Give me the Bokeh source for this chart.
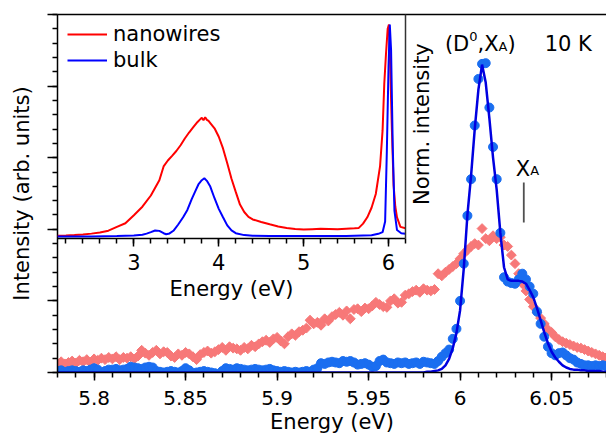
import math
import numpy as np
from bokeh.plotting import figure
from bokeh.models import Range1d, FixedTicker, LinearAxis, Label, Legend, LegendItem
from bokeh.embed import file_html
from bokeh.resources import INLINE

FONT = "DejaVu Sans"

# ---------------- main panel data (energy grid 5.78 ... 6.08 eV, step 0.002) ----------------
main_energy_start = 5.78
main_energy_step = 0.002

nanowire_main = [
    0.13, 0.15, 0.12, 0.14, 0.16, 0.13, 0.17, 0.15, 0.18, 0.14,
    0.19, 0.17, 0.20, 0.18, 0.21, 0.19, 0.22, 0.18, 0.21, 0.20,
    0.22, 0.19, 0.23, 0.31, 0.27, 0.24, 0.28, 0.31, 0.26, 0.29,
    0.28, 0.23, 0.21, 0.26, 0.24, 0.28, 0.26, 0.22, 0.18, 0.25,
    0.28, 0.30, 0.27, 0.29, 0.32, 0.35, 0.31, 0.36, 0.34, 0.33,
    0.31, 0.35, 0.33, 0.38, 0.36, 0.40, 0.43, 0.45, 0.42, 0.47,
    0.49, 0.44, 0.40, 0.50, 0.54, 0.52, 0.57, 0.59, 0.62, 0.73,
    0.68, 0.70, 0.66, 0.75, 0.72, 0.78, 0.81, 0.84, 0.80, 0.86,
    0.75, 0.88, 0.89, 0.85, 0.90, 0.89, 0.93, 0.98, 0.95, 0.92,
    0.91, 1.00, 1.03, 0.97, 0.98, 1.08, 1.10, 1.13, 1.15, 1.12,
    1.17, 1.15, 1.14, 1.16, 1.38, 1.35, 1.40, 1.44, 1.48, 1.52,
    1.59, 1.66, 1.71, 1.76, 1.80, 1.78, 2.01, 1.87, 1.84, 1.91,
    1.87, 1.89, 1.78, 1.76, 1.64, 1.52, 1.38, 1.24, 1.14, 1.02,
    0.92, 0.84, 0.76, 0.68, 0.60, 0.56, 0.50, 0.46, 0.43, 0.41,
    0.39, 0.37, 0.35, 0.34, 0.32, 0.30, 0.28, 0.26, 0.24, 0.22, 0.21,
]

bulk_main = [
    0.02, 0.03, 0.01, 0.02, 0.03, 0.02, 0.01, 0.03, 0.02, 0.04,
    0.06, 0.04, -0.03, 0.02, 0.04, 0.04, 0.05, 0.03, 0.04, 0.05,
    0.08, 0.07, 0.06, 0.05, 0.07, 0.08, 0.07, 0.02, 0.01, 0.00,
    0.01, 0.02, 0.01, 0.00, 0.02, 0.06, 0.03, -0.01, 0.00, 0.01,
    0.02, 0.01, 0.00, -0.01, -0.03, 0.02, 0.06, 0.05, 0.04, 0.06,
    0.05, 0.04, 0.03, 0.04, 0.05, 0.04, 0.03, 0.04, 0.05, 0.03,
    0.02, 0.01, 0.02, 0.01, 0.00, 0.01, 0.00, 0.01, 0.02, 0.01,
    0.04, 0.06, 0.13, 0.12, 0.14, 0.15, 0.14, 0.13, 0.16, 0.15,
    0.16, 0.14, 0.11, 0.12, 0.13, 0.11, 0.08, 0.09, 0.16, 0.18,
    0.14, 0.13, 0.12, 0.14, 0.13, 0.14, 0.12, 0.13, 0.14, 0.12,
    0.15, 0.14, 0.13, 0.12, 0.16, 0.22, 0.27, 0.32, 0.47, 0.61,
    1.00, 1.52, 2.19, 2.70, 3.45, 4.10, 4.31, 4.32, 3.70, 3.15,
    2.70, 1.95, 1.33, 1.27, 1.25, 1.24, 1.30, 1.38, 1.30, 1.20,
    1.10, 0.85, 0.68, 0.50, 0.36, 0.27, 0.24, 0.27, 0.28, 0.24,
    0.20, 0.18, 0.14, 0.12, 0.10, 0.10, 0.09, 0.10, 0.09, 0.10, 0.09,
]

bulk_fit = [
    0.00, 0.00, 0.00, 0.00, 0.00, 0.00, 0.00, 0.00, 0.00, 0.00,
    0.00, 0.00, 0.00, 0.00, 0.00, 0.00, 0.00, 0.00, 0.00, 0.00,
    0.00, 0.00, 0.00, 0.00, 0.00, 0.00, 0.00, 0.00, 0.00, 0.00,
    0.00, 0.00, 0.00, 0.00, 0.00, 0.00, 0.00, 0.00, 0.00, 0.00,
    0.00, 0.00, 0.00, 0.00, 0.00, 0.00, 0.00, 0.00, 0.00, 0.00,
    0.00, 0.00, 0.00, 0.00, 0.00, 0.00, 0.00, 0.00, 0.00, 0.00,
    0.00, 0.00, 0.00, 0.00, 0.00, 0.00, 0.00, 0.00, 0.00, 0.00,
    0.00, 0.00, 0.00, 0.00, 0.00, 0.00, 0.00, 0.00, 0.00, 0.00,
    0.00, 0.00, 0.00, 0.00, 0.00, 0.00, 0.00, 0.00, 0.00, 0.00,
    0.00, 0.00, 0.00, 0.00, 0.00, 0.00, 0.00, 0.00, 0.00, 0.00,
    0.00, 0.01, 0.01, 0.02, 0.03, 0.05, 0.10, 0.19, 0.34, 0.55,
    0.87, 1.45, 2.20, 2.75, 3.40, 3.95, 4.30, 4.05, 3.55, 3.00,
    2.55, 1.95, 1.47, 1.30, 1.28, 1.28, 1.28, 1.27, 1.24, 1.15,
    1.05, 0.90, 0.73, 0.56, 0.41, 0.29, 0.21, 0.15, 0.10, 0.07,
    0.05, 0.04, 0.04, 0.03, 0.03, 0.02, 0.02, 0.02, 0.02, 0.01, 0.01,
]

main_energy = np.round(main_energy_start + main_energy_step * np.arange(len(nanowire_main)), 4)

main_x_ticks = [5.80, 5.85, 5.90, 5.95, 6.00, 6.05]
main_x_tick_labels = ["5.8", "5.85", "5.9", "5.95", "6", "6.05"]
main_x_minor = [round(5.78 + 0.01 * k, 2) for k in range(31)]
main_y_ticks = [0, 1, 2, 3, 4, 5]
main_y_tick_labels = ["", "", "", "", "", ""]
main_y_minor = [round(0.2 * k, 1) for k in range(26)]

# ---------------- inset data (normalized spectra) ----------------
inset_nw_energy = [
    2.10, 2.20, 2.30, 2.40, 2.50, 2.60, 2.70, 2.80, 2.90, 3.00,
    3.10, 3.20, 3.30, 3.35, 3.40, 3.45, 3.50, 3.55, 3.60, 3.65,
    3.70, 3.75, 3.78, 3.80, 3.82, 3.84, 3.86, 3.88, 3.90, 3.95,
    4.00, 4.05, 4.10, 4.15, 4.20, 4.25, 4.30, 4.35, 4.40, 4.50,
    4.60, 4.70, 4.80, 4.90, 5.00, 5.10, 5.20, 5.30, 5.40, 5.50,
    5.60, 5.65, 5.70, 5.75, 5.80, 5.85, 5.90, 5.93, 5.95, 5.97,
    5.99, 6.005, 6.02, 6.04, 6.06, 6.08, 6.10, 6.14, 6.20,
]
inset_nw = [
    0.003, 0.004, 0.006, 0.009, 0.013, 0.018, 0.027, 0.045, 0.062, 0.100,
    0.140, 0.193, 0.265, 0.330, 0.358, 0.380, 0.403, 0.430, 0.462, 0.490,
    0.515, 0.540, 0.552, 0.560, 0.548, 0.562, 0.550, 0.545, 0.535, 0.510,
    0.470, 0.415, 0.345, 0.272, 0.210, 0.150, 0.115, 0.092, 0.080, 0.068,
    0.057, 0.047, 0.040, 0.035, 0.032, 0.034, 0.036, 0.035, 0.034, 0.036,
    0.038, 0.040, 0.060, 0.090, 0.135, 0.200, 0.330, 0.500, 0.720, 0.860,
    0.980, 1.000, 0.800, 0.500, 0.240, 0.140, 0.090, 0.045, 0.038,
]
inset_bulk_energy = [
    2.10, 2.50, 2.80, 3.00, 3.10, 3.15, 3.20, 3.25, 3.30, 3.35,
    3.38, 3.42, 3.47, 3.52, 3.58, 3.63, 3.68, 3.72, 3.76, 3.80,
    3.83, 3.86, 3.90, 3.95, 4.00, 4.05, 4.10, 4.15, 4.20, 4.30,
    4.40, 4.60, 5.00, 5.50, 5.80, 5.88, 5.93, 5.96, 5.98, 6.00,
    6.015, 6.03, 6.05, 6.07, 6.10, 6.15, 6.20,
]
inset_bulk = [
    0.000, 0.000, 0.002, 0.004, 0.008, 0.013, 0.020, 0.028, 0.026, 0.015,
    0.010, 0.014, 0.028, 0.055, 0.090, 0.125, 0.175, 0.210, 0.245, 0.265,
    0.274, 0.262, 0.235, 0.180, 0.130, 0.090, 0.052, 0.028, 0.015, 0.006,
    0.003, 0.002, 0.002, 0.002, 0.005, 0.012, 0.020, 0.070, 0.400, 0.800,
    1.000, 0.880, 0.420, 0.120, 0.030, 0.015, 0.012,
]
inset_x_ticks = [3, 4, 5, 6]
inset_x_tick_labels = ["3", "4", "5", "6"]
inset_x_minor = [round(2.2 + 0.2 * k, 1) for k in range(21)]

legend_labels = ["nanowires", "bulk"]

# annotation anchors (main-panel data units)
peak_label_energy = 5.9917
peak_label_level = 4.59
temp_label_energy = 6.0462
xa_label_energy = 6.0304
xa_label_level = 2.845
xa_marker_energy = 6.0348
xa_marker_low = 2.095
xa_marker_high = 2.654
norm_label_energy = 5.9724
norm_label_level = 3.47

NW_POINT = "#f77878"
BULK_POINT = "#1a6ef0"
FIT_LINE = "#0000e0"


def style_axis(ax, tick_size, major_out, minor_out):
    ax.axis_line_color = "black"
    ax.axis_line_width = 1.5
    ax.major_tick_line_color = "black"
    ax.major_tick_line_width = 1.5
    ax.minor_tick_line_color = "black"
    ax.minor_tick_line_width = 1.5
    ax.major_tick_in = 0
    ax.minor_tick_in = 0
    ax.major_tick_out = major_out
    ax.minor_tick_out = minor_out
    ax.major_label_text_font = FONT
    ax.major_label_text_font_size = tick_size
    ax.major_label_text_color = "black"
    ax.axis_label_text_font = FONT
    ax.axis_label_text_font_size = "21px"
    ax.axis_label_text_font_style = "normal"
    ax.axis_label_text_color = "black"


# ---------------- main figure ----------------
p = figure(width=606, height=440,
           x_range=Range1d(5.78, 6.08), y_range=Range1d(0, 5),
           output_backend="svg", toolbar_location=None,
           min_border_left=57, min_border_top=14, min_border_right=0, min_border_bottom=68,
           x_axis_label="Energy (eV)", y_axis_label="Intensity (arb. units)")
p.outline_line_color = None
p.grid.visible = False
p.background_fill_color = "white"
p.border_fill_color = "white"

xa = p.xaxis[0]
style_axis(xa, "20px", 8, 5)
xa.ticker = FixedTicker(ticks=main_x_ticks, minor_ticks=main_x_minor)
xa.major_label_overrides = dict(zip(main_x_ticks, main_x_tick_labels))
xa.major_label_standoff = 10
xa.axis_label_standoff = 2

ya = p.yaxis[0]
style_axis(ya, "20px", 10, 5)
ya.ticker = FixedTicker(ticks=main_y_ticks, minor_ticks=main_y_minor)
ya.major_label_overrides = dict(zip(main_y_ticks, main_y_tick_labels))
ya.major_label_standoff = 0
ya.axis_label_standoff = 14

top = LinearAxis(ticker=FixedTicker(ticks=[]), major_tick_out=0, minor_tick_out=0,
                 major_tick_in=0, minor_tick_in=0,
                 major_label_standoff=0, axis_line_width=1.5, axis_line_color="black")
p.add_layout(top, "above")

p.scatter(main_energy, nanowire_main, marker="square", angle=math.pi / 4, size=7,
          fill_color=NW_POINT, line_color=NW_POINT)
p.scatter(main_energy, bulk_main, marker="circle", size=9,
          fill_color=BULK_POINT, line_color=BULK_POINT)
p.line(main_energy, bulk_fit, line_color=FIT_LINE, line_width=2.5)

p.segment(x0=[xa_marker_energy], y0=[xa_marker_low], x1=[xa_marker_energy], y1=[xa_marker_high],
          line_color="#505050", line_width=1.8)


def add_text(fig, x, y, text, size="21px", dx=0, dy=0, angle=0.0, align="left", baseline="alphabetic"):
    fig.add_layout(Label(x=x, y=y, text=text, x_offset=dx, y_offset=dy, angle=angle,
                         text_font=FONT, text_font_size=size, text_color="black",
                         text_align=align, text_baseline=baseline))


add_text(p, peak_label_energy, peak_label_level, "(D")
add_text(p, peak_label_energy, peak_label_level, "0", size="13px", dx=24.4, dy=7)
add_text(p, peak_label_energy, peak_label_level, ",X", dx=32.6)
add_text(p, peak_label_energy, peak_label_level, "A", size="13px", dx=53.7, dy=-2.5)
add_text(p, peak_label_energy, peak_label_level, ")", dx=62.6)
add_text(p, temp_label_energy, peak_label_level, "10 K")
add_text(p, xa_label_energy, xa_label_level, "X")
add_text(p, xa_label_energy, xa_label_level, "A", size="13px", dx=14.4, dy=-1.7)
# y-axis title of the inset (drawn just right of the inset's right edge)
add_text(p, norm_label_energy, norm_label_level, "Norm. intensity",
         angle=math.pi / 2, align="center", baseline="top")

# ---------------- inset figure ----------------
ins = figure(width=378, height=294,
             x_range=Range1d(2.1, 6.2), y_range=Range1d(-0.01, 1.047),
             output_backend="svg", toolbar_location=None, y_axis_location="right",
             min_border_left=0, min_border_top=0, min_border_right=30, min_border_bottom=70,
             x_axis_label="Energy (eV)",
             styles={"position": "absolute", "left": "57px", "top": "14px"})
ins.background_fill_color = None
ins.border_fill_color = None
ins.outline_line_color = None
ins.grid.visible = False

ix = ins.xaxis[0]
style_axis(ix, "21px", 8, 5)
ix.ticker = FixedTicker(ticks=inset_x_ticks, minor_ticks=inset_x_minor)
ix.major_label_overrides = dict(zip(inset_x_ticks, inset_x_tick_labels))
ix.major_label_standoff = 7
ix.axis_label_standoff = 4

iy = ins.yaxis[0]
style_axis(iy, "21px", 0, 0)
iy.ticker = FixedTicker(ticks=[])
iy.axis_line_color = "#333333"
iy.major_label_standoff = 0

r_nw = ins.line(inset_nw_energy, inset_nw, line_color="#ff0000", line_width=2)
r_bulk = ins.line(inset_bulk_energy, inset_bulk, line_color="#0000ff", line_width=2)

legend = Legend(items=[LegendItem(label=legend_labels[0], renderers=[r_nw]),
                       LegendItem(label=legend_labels[1], renderers=[r_bulk])],
                location=(10, 166), padding=4, margin=0, spacing=2,
                glyph_width=40, glyph_height=20, label_standoff=6,
                label_text_font=FONT, label_text_font_size="21px", label_text_color="black",
                border_line_color=None, background_fill_alpha=0)
ins.add_layout(legend)

open("out.html", "w").write(file_html([p, ins], INLINE))
